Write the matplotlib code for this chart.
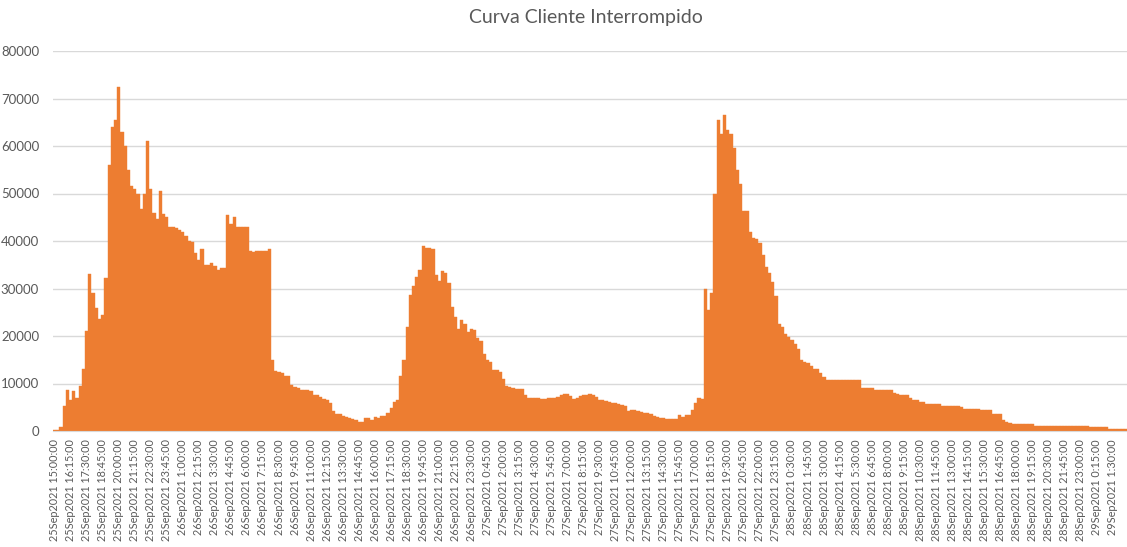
import numpy as np
import pandas as pd
from matplotlib import pyplot as plt

# clients interrupted, one value per 15 minutes, split per day
values_25sep = [150, 150, 800, 5200, 8700, 6500, 8500, 6900, 9500, 13000,
                21000, 33000, 29000, 26000, 23500, 24500, 32300, 56000, 64000, 65500,
                72500, 63000, 60000, 55000, 51600, 51000, 49800, 46700, 49800, 61000,
                51000, 46000, 44600, 50500, 45600, 45000]

values_26sep = [43000, 43000, 42800, 42300, 42000, 41000, 40000, 39700, 37500, 36000,
                38400, 35000, 35000, 35300, 34800, 34000, 34400, 34400, 45500, 43600,
                45100, 43000, 43000, 43000, 43000, 38000, 37600, 37800, 37800, 38000,
                37900, 38300, 14900, 12600, 12400, 12300, 11600, 11600, 9600, 9300,
                9000, 8600, 8600, 8600, 8400, 7600, 7500, 7200, 6800, 6600,
                6000, 4300, 3600, 3500, 3200, 2900, 2700, 2500, 2300, 1900,
                1800, 2800, 2650, 2300, 3000, 2800, 3100, 3100, 3700, 4800,
                6200, 6600, 11500, 15000, 22000, 28600, 30500, 32500, 34000, 38900,
                38500, 38600, 38300, 32900, 31500, 33700, 33300, 31200, 26100, 23900,
                21500, 23300, 22500, 20800, 21500, 21200]

values_27sep = [19500, 19000, 16300, 14900, 14500, 12900, 12800, 12500, 11000, 9500,
                9300, 9000, 8800, 8800, 8800, 7600, 7000, 7000, 7000, 7000,
                6800, 6700, 6900, 7000, 7000, 7100, 7500, 7700, 7700, 7400,
                6800, 6900, 7300, 7500, 7500, 7700, 7500, 7200, 6600, 6500,
                6280, 6070, 6000, 5900, 5750, 5500, 5200, 4300, 4400, 4360,
                4200, 4000, 3780, 3700, 3500, 3200, 2930, 2800, 2650, 2570,
                2570, 2570, 2500, 3300, 3000, 3280, 3280, 4500, 5900, 7000,
                6800, 30000, 25500, 29000, 50000, 65500, 62600, 66500, 63300, 62500,
                59500, 55000, 52000, 46300, 46300, 42000, 40700, 40400, 39500, 37000,
                34500, 33200, 31400, 28500, 22500, 21900]

values_28sep = [20500, 19800, 19100, 18300, 17300, 15000, 14500, 14400, 13600, 13100,
                13100, 12300, 11300, 10700, 10700, 10700, 10700, 10700, 10700, 10700,
                10700, 10700, 10700, 10700, 9100, 9100, 9100, 9100, 8700, 8700,
                8700, 8700, 8700, 8700, 8000, 7800, 7500, 7500, 7500, 6900,
                6600, 6500, 6100, 6100, 5600, 5600, 5600, 5600, 5600, 5300,
                5200, 5200, 5300, 5350, 5300, 5000, 4700, 4640, 4640, 4640,
                4640, 4400, 4360, 4360, 4360, 3640, 3640, 3640, 2300, 1860,
                1700, 1500, 1500, 1500, 1500, 1500, 1500, 1450, 1140, 1140,
                1140, 1140, 1140, 1140, 1140, 1140, 1140, 1140, 1140, 1140,
                1140, 1140, 1140, 1140, 1140, 790]

values_29sep = [790, 790, 790, 790, 790, 500, 500, 500, 500, 500, 500]

values = values_25sep + values_26sep + values_27sep + values_28sep + values_29sep
times = pd.date_range('2021-09-25 15:00', periods=len(values), freq='15min')
labels = ['%d%s%d %d:%02d:00' % (t.day, t.strftime('%b'), t.year, t.hour, t.minute) for t in times]

bar_color = '#ED7D31'
text_color = '#595959'
grid_color = '#D9D9D9'

plt.rcParams['font.family'] = ['Lato', 'DejaVu Sans']

fig = plt.figure(figsize=(11.27, 5.47), dpi=100)
ax = fig.add_axes([53 / 1127, 1 - 431 / 547, 1 - 53 / 1127, 380 / 547])

x = np.arange(len(values))
ax.bar(x, values, width=1.0, color=bar_color, edgecolor=bar_color, linewidth=0.3, zorder=2)

ax.set_xlim(-0.5, len(values) - 0.5)
ax.set_ylim(0, 80000)
ax.set_yticks(np.arange(0, 80001, 10000))
ax.set_yticklabels([str(v) for v in range(0, 80001, 10000)], fontsize=9.5, color=text_color)
ax.grid(axis='y', color=grid_color, linewidth=1, zorder=0)

# every 5th category gets a label (75 minutes)
ax.set_xticks(x[::5])
ax.set_xticklabels(labels[::5], rotation=90, fontsize=7.8, color=text_color, va='top')
ax.tick_params(axis='both', length=0)
ax.tick_params(axis='x', pad=6)
ax.tick_params(axis='y', pad=10)

for side in ['top', 'right', 'left']:
    ax.spines[side].set_visible(False)
ax.spines['bottom'].set_color(grid_color)

fig.text(0.52, 1 - 18 / 547, 'Curva Cliente Interrompido', ha='center', va='center',
         fontsize=14, color=text_color)

plt.savefig('out.png', dpi=100)
